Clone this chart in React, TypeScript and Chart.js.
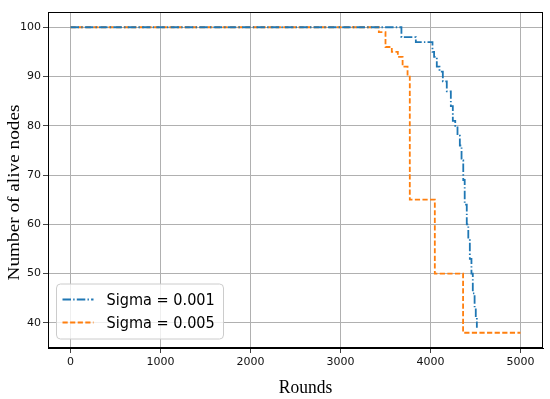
import React, { useEffect, useRef } from "react";
import { Chart, registerables } from "chart.js";

Chart.register(...registerables);

// Data (rounds, alive nodes) — change points of each stepped curve
const sigma001Rounds = [0, 3677, 3837, 4022, 4040, 4070, 4100, 4137, 4181, 4226, 4248, 4275, 4300, 4326, 4345, 4364, 4380, 4403, 4420, 4437, 4455, 4470, 4490, 4503, 4515];
const sigma001Alive = [100, 98, 97, 95, 94, 92, 91, 89, 87, 84, 81, 80, 78, 76, 73, 69, 64, 60, 57, 53, 50, 46, 43, 41, 39];

const sigma005Rounds = [0, 3426, 3500, 3570, 3637, 3690, 3745, 3770, 4048, 4362, 5000];
const sigma005Alive = [100, 99, 96, 95, 94, 92, 90, 65, 50, 38, 38];

const xTicks = [0, 1000, 2000, 3000, 4000, 5000];
const yTicks = [40, 50, 60, 70, 80, 90, 100];

const xTitle = "Rounds";
const yTitle = "Number of alive nodes";
const seriesLabels = ["Sigma = 0.001", "Sigma = 0.005"];
const seriesColors = ["#1f77b4", "#ff7f0e"];
const seriesDash = [
  [8.5, 2.2, 1.4, 2.2],
  [5.2, 2.4],
];

const toPoints = (xs: number[], ys: number[]) => xs.map((x, i) => ({ x, y: ys[i] }));

const frameTitlesLegend = {
  id: "frameTitlesLegend",
  afterDraw(chart: any) {
    const { ctx, chartArea } = chart;
    ctx.save();
    // full axes frame
    ctx.strokeStyle = "#000";
    ctx.lineWidth = 1;
    ctx.setLineDash([]);
    ctx.strokeRect(
      Math.round(chartArea.left) + 0.5,
      Math.round(chartArea.top) + 0.5,
      Math.round(chartArea.right - chartArea.left) - 1,
      Math.round(chartArea.bottom - chartArea.top) - 1
    );

    // axis titles
    ctx.fillStyle = "#000";
    ctx.font = '17.5px "Liberation Serif"';
    ctx.textAlign = "center";
    ctx.textBaseline = "alphabetic";
    ctx.save();
    ctx.translate(305.5, 393);
    ctx.scale(1, 1.12);
    ctx.fillText(xTitle, 0, 0);
    ctx.restore();

    ctx.save();
    ctx.translate(19.3, 192.5);
    ctx.rotate(-Math.PI / 2);
    ctx.scale(1.1, 1);
    ctx.fillText(yTitle, 0, 0);
    ctx.restore();

    // legend box (lower left, inside axes)
    const bx = chartArea.left + 8.5;
    const by = chartArea.bottom - 64;
    const bw = 167;
    const bh = 55;
    const r = 4;
    ctx.beginPath();
    ctx.moveTo(bx + r, by);
    ctx.lineTo(bx + bw - r, by);
    ctx.arcTo(bx + bw, by, bx + bw, by + r, r);
    ctx.lineTo(bx + bw, by + bh - r);
    ctx.arcTo(bx + bw, by + bh, bx + bw - r, by + bh, r);
    ctx.lineTo(bx + r, by + bh);
    ctx.arcTo(bx, by + bh, bx, by + bh - r, r);
    ctx.lineTo(bx, by + r);
    ctx.arcTo(bx, by, bx + r, by, r);
    ctx.closePath();
    ctx.fillStyle = "rgba(255,255,255,0.8)";
    ctx.fill();
    ctx.strokeStyle = "#cccccc";
    ctx.lineWidth = 1;
    ctx.stroke();

    ctx.font = '14.5px "DejaVu Sans"';
    ctx.textBaseline = "middle";
    ctx.textAlign = "left";
    seriesLabels.forEach((label, i) => {
      const yy = by + 15.5 + i * 23;
      ctx.beginPath();
      ctx.setLineDash(seriesDash[i]);
      ctx.strokeStyle = seriesColors[i];
      ctx.lineWidth = 1.8;
      ctx.moveTo(bx + 6, yy);
      ctx.lineTo(bx + 37, yy);
      ctx.stroke();
      ctx.setLineDash([]);
      ctx.fillStyle = "#000";
      ctx.save();
      ctx.translate(bx + 50, yy + 1);
      ctx.scale(1, 1.12);
      ctx.fillText(label, 0, 0);
      ctx.restore();
    });
    ctx.restore();
  },
};

export default function App() {
  const canvasRef = useRef<HTMLCanvasElement | null>(null);

  useEffect(() => {
    if (!canvasRef.current) return;
    const chart = new Chart(canvasRef.current, {
      type: "line",
      data: {
        datasets: [
          {
            label: seriesLabels[0],
            data: toPoints(sigma001Rounds, sigma001Alive),
            borderColor: seriesColors[0],
            backgroundColor: seriesColors[0],
            borderWidth: 1.8,
            borderDash: seriesDash[0],
            pointRadius: 0,
            stepped: "before",
            fill: false,
          },
          {
            label: seriesLabels[1],
            data: toPoints(sigma005Rounds, sigma005Alive),
            borderColor: seriesColors[1],
            backgroundColor: seriesColors[1],
            borderWidth: 1.8,
            borderDash: seriesDash[1],
            pointRadius: 0,
            stepped: "before",
            fill: false,
          },
        ],
      },
      options: {
        animation: false,
        responsive: true,
        maintainAspectRatio: false,
        layout: { padding: { left: 0, right: 7, top: 12, bottom: 0 } },
        plugins: {
          legend: { display: false },
          tooltip: { enabled: false },
        },
        scales: {
          x: {
            type: "linear",
            min: -250,
            max: 5250,
            afterFit: (s: any) => {
              s.height = 51;
            },
            afterBuildTicks: (s: any) => {
              s.ticks = xTicks.map((v) => ({ value: v }));
            },
            ticks: {
              color: "#111",
              font: { family: "DejaVu Sans", size: 11 },
              padding: 3,
              maxRotation: 0,
              callback: (v: any) => String(v),
            },
            grid: {
              color: "#b0b0b0",
              lineWidth: 1,
              tickLength: 5,
              tickColor: "#444",
            },
            border: { display: true, color: "#000", width: 1 },
          },
          y: {
            type: "linear",
            min: 34.9,
            max: 103.1,
            afterFit: (s: any) => {
              s.width = 48;
            },
            afterBuildTicks: (s: any) => {
              s.ticks = yTicks.map((v) => ({ value: v }));
            },
            ticks: {
              color: "#111",
              font: { family: "DejaVu Sans", size: 11 },
              padding: 2,
              callback: (v: any) => String(v),
            },
            grid: {
              color: "#b0b0b0",
              lineWidth: 1,
              tickLength: 5,
              tickColor: "#444",
            },
            border: { display: true, color: "#000", width: 1 },
          },
        },
      },
      plugins: [frameTitlesLegend],
    });
    return () => chart.destroy();
  }, []);

  return (
    <div style={{ position: "fixed", left: 0, top: 0, width: 550, height: 399, background: "#fff" }}>
      <canvas ref={canvasRef} />
    </div>
  );
}
